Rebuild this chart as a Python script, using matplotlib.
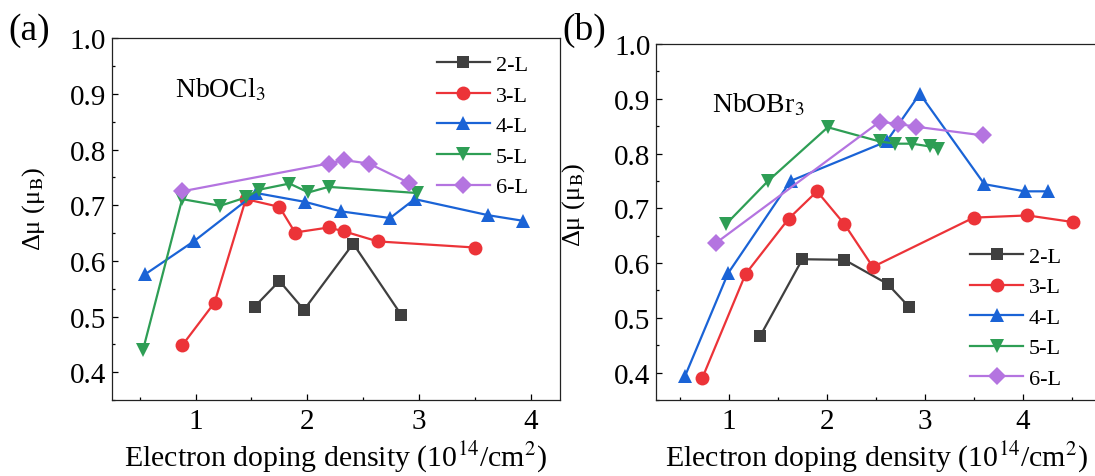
import matplotlib
matplotlib.use("Agg")
import matplotlib.pyplot as plt
from matplotlib.ticker import MultipleLocator

plt.rcParams['font.family'] = ['Liberation Serif', 'DejaVu Serif']
plt.rcParams['mathtext.fontset'] = 'stix'

labels = ["2-L", "3-L", "4-L", "5-L", "6-L"]
colors = ["#3f3f3f", "#ec3338", "#1a63d6", "#2e9e55", "#b474e0"]
markers = ["s", "o", "^", "v", "D"]

# Panel (a): NbOCl3
a_x2 = [1.53, 1.75, 1.97, 2.41, 2.84]
a_y2 = [0.518, 0.564, 0.512, 0.631, 0.503]
a_x3 = [0.88, 1.17, 1.45, 1.75, 1.89, 2.19, 2.33, 2.63, 3.50]
a_y3 = [0.448, 0.525, 0.711, 0.697, 0.651, 0.660, 0.653, 0.635, 0.624]
a_x4 = [0.55, 0.99, 1.54, 1.98, 2.30, 2.74, 2.96, 3.62, 3.93]
a_y4 = [0.576, 0.636, 0.722, 0.706, 0.689, 0.677, 0.711, 0.682, 0.672]
a_x5 = [0.53, 0.88, 1.22, 1.45, 1.57, 1.84, 2.01, 2.19, 2.98]
a_y5 = [0.440, 0.711, 0.699, 0.714, 0.728, 0.739, 0.723, 0.733, 0.722]
a_x6 = [0.88, 2.19, 2.33, 2.55, 2.91]
a_y6 = [0.725, 0.775, 0.781, 0.775, 0.740]

# Panel (b): NbOBr3
b_x2 = [1.32, 1.75, 2.18, 2.62, 2.84]
b_y2 = [0.467, 0.607, 0.606, 0.562, 0.520]
b_x3 = [0.73, 1.17, 1.61, 1.90, 2.18, 2.47, 3.50, 4.05, 4.51]
b_y3 = [0.391, 0.580, 0.681, 0.731, 0.671, 0.593, 0.683, 0.687, 0.675]
b_x4 = [0.55, 0.99, 1.63, 2.61, 2.95, 3.61, 4.02, 4.26]
b_y4 = [0.393, 0.581, 0.750, 0.822, 0.909, 0.744, 0.731, 0.731]
b_x5 = [0.97, 1.40, 2.01, 2.54, 2.70, 2.87, 3.05, 3.14]
b_y5 = [0.671, 0.750, 0.848, 0.822, 0.818, 0.818, 0.813, 0.809]
b_x6 = [0.87, 2.54, 2.73, 2.91, 3.60]
b_y6 = [0.637, 0.858, 0.854, 0.849, 0.833]

W, H = 1095, 477
fig = plt.figure(figsize=(W / 100, H / 100), dpi=100)

def px_axes(l, t, r, b):
    return fig.add_axes([l / W, 1 - b / H, (r - l) / W, (b - t) / H])

axa = px_axes(111.7, 39.3, 560, 401)
axb = px_axes(656, 45, 1097, 401)

panels = [
    (axa, [(a_x2, a_y2), (a_x3, a_y3), (a_x4, a_y4), (a_x5, a_y5), (a_x6, a_y6)],
     (0.25, 4.26), "NbOCl$_3$", (0.141, 0.84), (0.725, 0.955)),
    (axb, [(b_x2, b_y2), (b_x3, b_y3), (b_x4, b_y4), (b_x5, b_y5), (b_x6, b_y6)],
     (0.255, 4.76), "NbOBr$_3$", (0.128, 0.81), (0.712, 0.432)),
]

for ax, series, xlim, name, tpos, lpos in panels:
    for (xs, ys), lab, c, m in zip(series, labels, colors, markers):
        ms = 8.5 if m == "s" else (9.5 if m == "D" else 10)
        ax.plot(xs, ys, color=c, marker=m, markersize=ms, lw=1.6,
                markeredgewidth=0, label=lab)
    ax.set_xlim(*xlim)
    ax.set_ylim(0.35, 1.0)
    ax.xaxis.set_major_locator(MultipleLocator(1))
    ax.xaxis.set_minor_locator(MultipleLocator(0.5))
    ax.yaxis.set_minor_locator(MultipleLocator(0.05))
    ax.set_yticks([0.4, 0.5, 0.6, 0.7, 0.8, 0.9, 1.0])
    ax.set_yticklabels(["0.4", "0.5", "0.6", "0.7", "0.8", "0.9", "1.0"])
    ax.tick_params(which="both", direction="in", width=0.9, labelsize=21, pad=4)
    ax.tick_params(axis="x", pad=6)
    ax.tick_params(which="major", length=4.5)
    ax.tick_params(which="minor", length=2.5)
    for s in ax.spines.values():
        s.set_linewidth(0.9)
        s.set_color("#222222")
    ax.set_xlabel("Electron doping density (10$^{14}$/cm$^{2}$)", fontsize=21.5, labelpad=3)
    ax.set_ylabel("Δμ (μ$_\\mathrm{B}$)", fontsize=19)
    ax.text(tpos[0], tpos[1], name, transform=ax.transAxes, fontsize=20, va="baseline")
    ax.legend(loc="upper left", bbox_to_anchor=lpos, frameon=False, fontsize=16,
              handlelength=2.4, handletextpad=0.25, labelspacing=0.45, borderpad=0,
              borderaxespad=0)

axa.yaxis.set_label_coords(-0.144, 0.53)
axb.yaxis.set_label_coords(-0.156, 0.55)

fig.text(8 / W, 1 - 40 / H, "(a)", fontsize=27, va="baseline")
fig.text(562 / W, 1 - 40 / H, "(b)", fontsize=27, va="baseline")

fig.savefig("out.png", dpi=100)
